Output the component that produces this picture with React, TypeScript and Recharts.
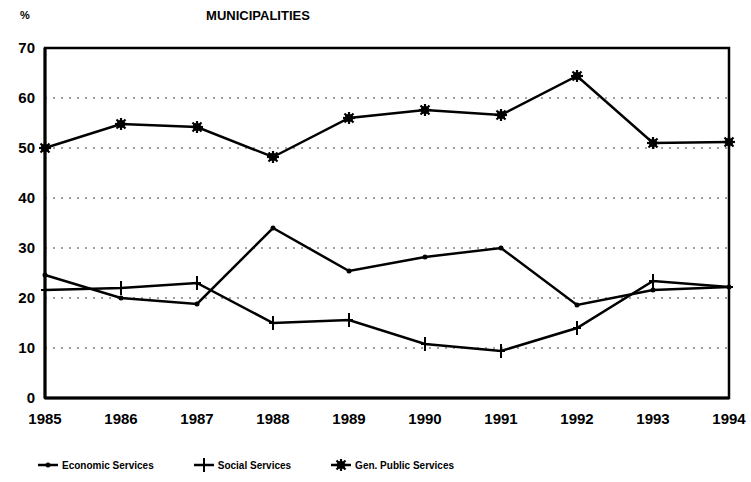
import React from "react"
import {
  LineChart,
  Line,
  XAxis,
  YAxis,
  CartesianGrid,
  ReferenceArea,
} from "recharts"

const years = ["1985", "1986", "1987", "1988", "1989", "1990", "1991", "1992", "1993", "1994"]
const economicServices = [24.6, 20, 18.8, 34, 25.4, 28.2, 30, 18.6, 21.6, 22.2]
const socialServices = [21.6, 22, 23, 15, 15.6, 10.8, 9.4, 14, 23.4, 22.2]
const genPublicServices = [50, 54.8, 54.2, 48.2, 56, 57.6, 56.6, 64.4, 51, 51.2]
const yTicks = [0, 10, 20, 30, 40, 50, 60, 70]

const data = years.map((year, i) => ({
  year,
  economic: economicServices[i],
  social: socialServices[i],
  general: genPublicServices[i],
}))

const FONT = "'Liberation Sans', Arial, sans-serif"

const SmallDot = (props: any) => {
  const { cx, cy } = props
  if (cx == null || cy == null) return null
  return <circle cx={cx} cy={cy} r={2.5} fill="#000" />
}

const CrossDot = (props: any) => {
  const { cx, cy } = props
  if (cx == null || cy == null) return null
  return (
    <g stroke="#000" strokeWidth={2}>
      <line x1={cx} y1={cy - 7} x2={cx} y2={cy + 7} />
      <line x1={cx - 4} y1={cy} x2={cx + 4} y2={cy} />
    </g>
  )
}

const StarDot = (props: any) => {
  const { cx, cy } = props
  if (cx == null || cy == null) return null
  return (
    <g stroke="#000" strokeWidth={2.2}>
      <line x1={cx - 6} y1={cy} x2={cx + 6} y2={cy} />
      <line x1={cx} y1={cy - 6} x2={cx} y2={cy + 6} />
      <line x1={cx - 4.5} y1={cy - 4.5} x2={cx + 4.5} y2={cy + 4.5} />
      <line x1={cx - 4.5} y1={cy + 4.5} x2={cx + 4.5} y2={cy - 4.5} />
      <circle cx={cx} cy={cy} r={3} fill="#000" />
    </g>
  )
}

const legendItems = [
  { label: "Economic Services", Marker: SmallDot },
  { label: "Social Services", Marker: CrossDot },
  { label: "Gen. Public Services", Marker: StarDot },
]

const LegendBox = () => (
  <div
    style={{
      position: "absolute",
      left: 36,
      top: 457,
      display: "flex",
      gap: 38,
      fontFamily: FONT,
      fontSize: 10,
      fontWeight: "bold",
    }}
  >
    {legendItems.map(({ label, Marker }) => (
      <div key={label} style={{ display: "flex", alignItems: "center" }}>
        <svg width={24} height={16}>
          <line x1={2} y1={8} x2={22} y2={8} stroke="#000" strokeWidth={2.5} />
          <Marker cx={12} cy={8} />
        </svg>
        <span style={{ marginLeft: 2 }}>{label}</span>
      </div>
    ))}
  </div>
)

export default function App() {
  return (
    <div style={{ position: "absolute", left: 0, top: 0, width: 751, height: 482, background: "#fff" }}>
      <div
        style={{
          position: "absolute",
          left: 20,
          top: 9,
          fontFamily: FONT,
          fontSize: 11,
          fontWeight: "bold",
        }}
      >
        %
      </div>
      <div
        style={{
          position: "absolute",
          left: 200,
          top: 8,
          width: 116,
          textAlign: "center",
          fontFamily: FONT,
          fontSize: 13,
          fontWeight: "bold",
        }}
      >
        MUNICIPALITIES
      </div>
      <LineChart width={751} height={482} data={data} margin={{ top: 48, right: 22, bottom: 54, left: 0 }}>
        <CartesianGrid horizontal vertical={false} stroke="#444" strokeDasharray="2 6" />
        <XAxis
          dataKey="year"
          height={30}
          axisLine={{ stroke: "#000", strokeWidth: 3 }}
          tickLine={false}
          tickSize={0}
          tickMargin={15}
          interval={0}
          tick={{ fill: "#000", fontSize: 15, fontWeight: "bold", fontFamily: FONT }}
        />
        <YAxis
          width={45}
          domain={[0, 70]}
          ticks={yTicks}
          axisLine={{ stroke: "#000", strokeWidth: 3 }}
          tickLine={false}
          tickSize={0}
          tickMargin={10}
          tick={{ fill: "#000", fontSize: 15, fontWeight: "bold", fontFamily: FONT }}
        />
        <ReferenceArea
          x1="1985"
          x2="1994"
          y1={0}
          y2={70}
          fill="none"
          stroke="#000"
          strokeWidth={2.5}
        />
        <Line
          dataKey="economic"
          name="Economic Services"
          stroke="#000"
          strokeWidth={2.5}
          dot={<SmallDot />}
          isAnimationActive={false}
        />
        <Line
          dataKey="social"
          name="Social Services"
          stroke="#000"
          strokeWidth={2.5}
          dot={<CrossDot />}
          isAnimationActive={false}
        />
        <Line
          dataKey="general"
          name="Gen. Public Services"
          stroke="#000"
          strokeWidth={2.5}
          dot={<StarDot />}
          isAnimationActive={false}
        />
      </LineChart>
      <LegendBox />
    </div>
  )
}
